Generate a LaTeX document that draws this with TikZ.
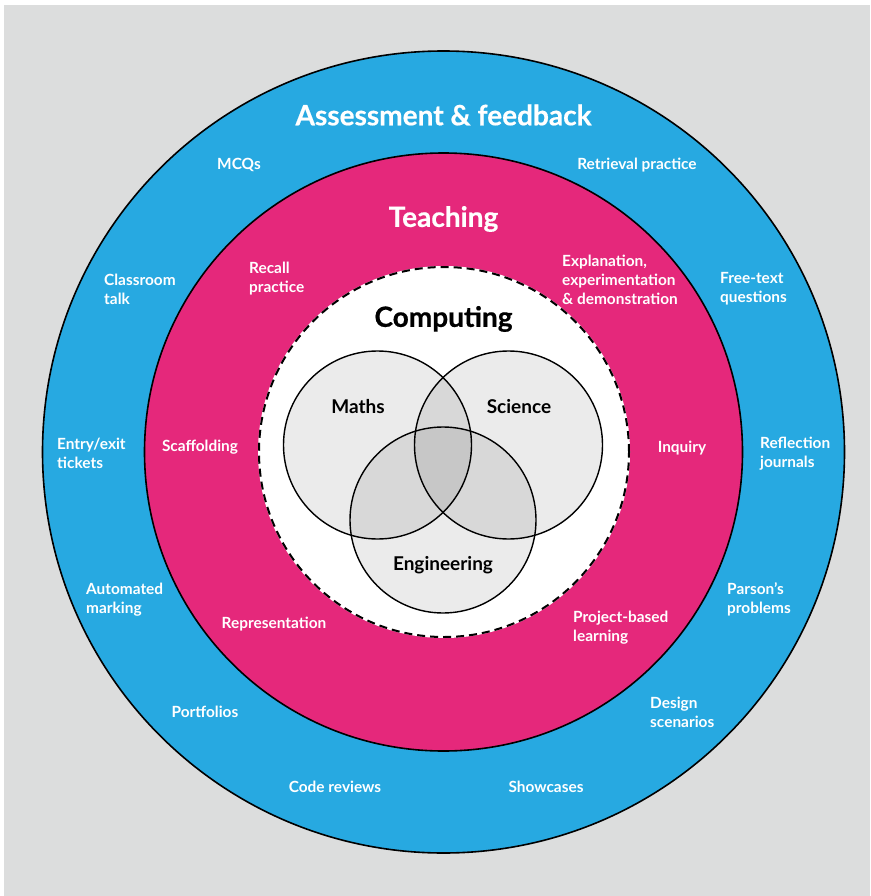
\documentclass[tikz,border=0pt]{standalone}
\usepackage{fontspec}
\setmainfont{Lato}
\newfontfamily\heavy{Lato}[BoldFeatures={FakeBold=0.5}]
\definecolor{bggray}{HTML}{DCDDDD}
\definecolor{ringblue}{HTML}{27A9E1}
\definecolor{ringpink}{HTML}{E5287B}
\begin{document}
\begin{tikzpicture}[x=1pt,y=-1pt,
  lab/.style={text=white, font=\bfseries\fontsize{15.4}{19}\selectfont, inner sep=0pt, align=left},
  head/.style={text=white, font=\heavy\bfseries\fontsize{28}{32}\selectfont, inner sep=0pt},
  venn/.style={text=black, font=\bfseries\fontsize{19}{22}\selectfont, inner sep=0pt},
  ring/.style={draw=black, line width=1.6pt},
  vcirc/.style={fill=black, fill opacity=0.08, draw=black, line width=1.4pt}]
\useasboundingbox (0,0) rectangle (870,896);
\fill[white] (0,0) rectangle (870,896);
\fill[bggray] (4,5) rectangle (870,896);
% rings
\fill[ringblue] (443.5,452) circle[radius=401pt];
\draw[ring] (443.5,452) circle[radius=401pt];
\fill[ringpink] (443.5,452) circle[radius=299pt];
\draw[ring] (443.5,452) circle[radius=299pt];
\fill[white] (444,452) circle[radius=186pt];
\draw[black, line width=2pt, dash pattern=on 8pt off 5pt] (444,452) circle[radius=185pt];
% venn
\path[vcirc] (377.5,445) circle[radius=94pt];
\path[vcirc] (508.5,445) circle[radius=94pt];
\path[vcirc] (443,520) circle[radius=93pt];
% headings
\node[head] (assess) at (443.5,115) {Assessment \& feedback};
\node[head] (teach) at (443.5,219) {Teaching};
\node[venn, font=\heavy\bfseries\fontsize{28}{32}\selectfont] (comp) at (443.5,319) {Computing};
\node[venn] (maths) at (358,407) {Maths};
\node[venn] (sci) at (519,407) {Science};
\node[venn] (eng) at (443,565) {Engineering};
% outer ring labels
\node[lab] (mcq) at (239,165) {MCQs};
\node[lab] (retr) at (637,165) {Retrieval practice};
\node[lab, anchor=west] (class) at (104,289.5) {Classroom\\talk};
\node[lab, anchor=west] (free) at (720,288.5) {Free-text\\questions};
\node[lab, anchor=west] (entry) at (57,453.5) {Entry/exit\\tickets};
\node[lab, anchor=west] (refl) at (760,453.5) {Reflection\\journals};
\node[lab, anchor=west] (auto) at (86,599.5) {Automated\\marking};
\node[lab, anchor=west] (parson) at (727,599.5) {Parson’s\\problems};
\node[lab] (portf) at (205,712) {Portfolios};
\node[lab, anchor=west] (design) at (650,712.5) {Design\\scenarios};
\node[lab] (code) at (335,787) {Code reviews};
\node[lab] (show) at (546,787) {Showcases};
% pink ring labels
\node[lab, anchor=west] (recall) at (249,279) {Recall\\practice};
\node[lab, anchor=west] (expl) at (562,279.5) {Explanation,\\experimentation\\\& demonstration};
\node[lab] (scaff) at (200,447) {Scaffolding};
\node[lab] (inq) at (682,448) {Inquiry};
\node[lab] (repr) at (274,624) {Representation};
\node[lab, anchor=west] (proj) at (573,628) {Project-based\\learning};
\end{tikzpicture}
\end{document}
